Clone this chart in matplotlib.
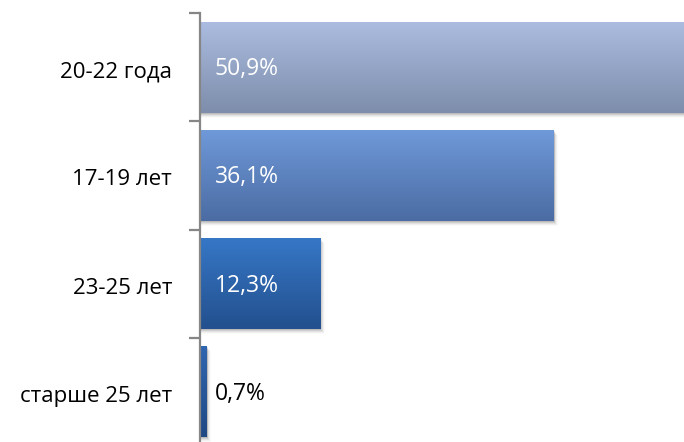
import matplotlib
matplotlib.use("Agg")
import matplotlib.pyplot as plt
import numpy as np
from matplotlib.patches import Rectangle

categories = ["20-22 года", "17-19 лет", "23-25 лет", "старше 25 лет"]
values = [50.9, 36.1, 12.3, 0.7]
labels = ["50,9%", "36,1%", "12,3%", "0,7%"]
top_colors = ["#abbce0", "#6f99d9", "#3677c6", "#2f66b0"]
bottom_colors = ["#7d8dab", "#4b6ca3", "#23508e", "#1f4884"]
label_colors = ["white", "white", "white", "black"]

plt.rcParams['font.family'] = ['Open Sans', 'DejaVu Sans']

W, H = 684, 442
fig = plt.figure(figsize=(W / 100, H / 100), dpi=100)
ax_left, ax_right, ax_top, ax_bottom = 200, 684, 13, 446
ax = fig.add_axes([ax_left / W, (H - ax_bottom) / H, (ax_right - ax_left) / W, (ax_bottom - ax_top) / H])

xmax = (ax_right - ax_left) / 9.8
ax.set_xlim(0, xmax)
ax.set_ylim(len(categories) - 0.5, -0.5)

bar_h = 0.84
px_x = xmax / (ax_right - ax_left)
px_y = len(categories) / (ax_bottom - ax_top)

def hex2rgb(h):
    return np.array([int(h[i:i + 2], 16) / 255 for i in (1, 3, 5)])

for i, v in enumerate(values):
    y0 = i - bar_h / 2
    y1 = i + bar_h / 2
    # soft shadow
    for k, a in zip(range(1, 6), [0.10, 0.08, 0.06, 0.04, 0.02]):
        ax.add_patch(Rectangle((0, y0 + k * px_y), v + k * px_x * 0.8, bar_h,
                               facecolor="black", alpha=a, edgecolor="none", zorder=1))
    c0 = hex2rgb(top_colors[i])
    c1 = hex2rgb(bottom_colors[i])
    t = np.linspace(0, 1, 100)[:, None]
    grad = (c0[None, :] * (1 - t) + c1[None, :] * t)[:, None, :]
    ax.imshow(grad, extent=[0, v, y1, y0], aspect='auto', origin='upper',
              interpolation='bilinear', zorder=2)
    ax.text(15 * px_x, i + 2 * px_y, labels[i], color=label_colors[i], fontsize=16.5,
            va='center', ha='left', zorder=3)

ax.set_xlim(0, xmax)
ax.set_ylim(len(categories) - 0.5, -0.5)

for s in ["top", "right", "bottom"]:
    ax.spines[s].set_visible(False)
ax.spines["left"].set_color("#868686")
ax.spines["left"].set_linewidth(1.6)
ax.spines["left"].set_zorder(4)

ax.set_xticks([])
ax.set_yticks(np.arange(-0.5, len(categories) + 0.5, 1.0))
ax.set_yticklabels([])
ax.tick_params(axis='y', which='major', length=8, width=1.6, color="#868686", direction='out')
ax.set_yticks(np.arange(len(categories)) + 2 * px_y, minor=True)
ax.set_yticklabels(categories, minor=True)
ax.tick_params(axis='y', which='minor', length=0, pad=20, labelsize=16, labelcolor="black")

fig.savefig("out.png", dpi=100)
